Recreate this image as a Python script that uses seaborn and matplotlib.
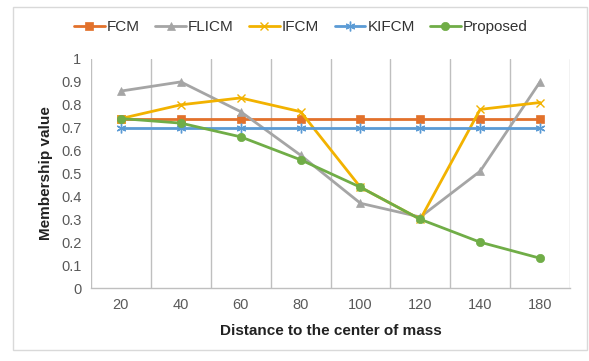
import pandas as pd
import matplotlib.pyplot as plt
import matplotlib.patches as patches
import seaborn as sns

distances = ["20", "40", "60", "80", "100", "120", "140", "180"]
fcm = [0.74, 0.74, 0.74, 0.74, 0.74, 0.74, 0.74, 0.74]
flicm = [0.86, 0.90, 0.77, 0.58, 0.37, 0.31, 0.51, 0.90]
ifcm = [0.74, 0.80, 0.83, 0.77, 0.44, 0.30, 0.78, 0.81]
kifcm = [0.70, 0.70, 0.70, 0.70, 0.70, 0.70, 0.70, 0.70]
proposed = [0.74, 0.72, 0.66, 0.56, 0.44, 0.30, 0.20, 0.13]

sns.set_style("white")
plt.rcParams['font.family'] = ['Liberation Sans', 'DejaVu Sans']

series = [
    ("FCM", fcm, "#E2712B", "s", 6),
    ("FLICM", flicm, "#A5A5A5", "^", 6),
    ("IFCM", ifcm, "#F2B200", "x", 6),
    ("KIFCM", kifcm, "#5B9BD5", (6, 2, 0), 7),
    ("Proposed", proposed, "#70AD47", "o", 6),
]

fig = plt.figure(figsize=(5.89, 3.61), dpi=100)
ax = fig.add_axes([91 / 589, 1 - 288 / 361, (570 - 91) / 589, (288 - 59) / 361])

for name, vals, color, marker, ms in series:
    df = pd.DataFrame({"x": range(len(distances)), "y": vals})
    thin = marker in ("x", (6, 2, 0))
    sns.lineplot(data=df, x="x", y="y", ax=ax, color=color, marker=marker,
                 markersize=ms, linewidth=2, label=name,
                 markeredgecolor=color, markeredgewidth=1.0 if thin else 0.5)

ax.set_xlim(-0.5, len(distances) - 0.5)
ax.set_ylim(0, 1)
ax.set_xticks(range(len(distances)))
ax.set_xticklabels(distances)
ax.set_xticks([i - 0.5 for i in range(len(distances) + 1)], minor=True)
ax.set_yticks([i / 10 for i in range(11)])
ax.set_yticklabels(["0"] + [f"{i / 10:.1f}" for i in range(1, 10)] + ["1"])
ax.grid(False)
ax.grid(True, which="minor", axis="x", color="#BFBFBF", linewidth=1)
ax.tick_params(axis="both", which="major", length=0, labelsize=10.5, colors="#595959", pad=7)
ax.tick_params(axis="x", which="minor", length=0)
for s in ["top", "right", "left"]:
    ax.spines[s].set_visible(False)
ax.spines["bottom"].set_color("#BFBFBF")
ax.spines["bottom"].set_linewidth(1)

ax.set_xlabel("Distance to the center of mass", fontsize=11, fontweight="bold", color="#222222", labelpad=9)
ax.set_ylabel("Membership value", fontsize=11, fontweight="bold", color="#222222", labelpad=6)

leg = ax.legend(loc="center", bbox_to_anchor=(301 / 589, 1 - 27 / 361), bbox_transform=fig.transFigure,
                ncol=5, frameon=False, fontsize=11, handlelength=2.0, columnspacing=1.0, handletextpad=0.15)
for t in leg.get_texts():
    t.set_color("#333333")

fig.patches.append(patches.Rectangle((13 / 589, 1 - 350 / 361), (587 - 13) / 589, (350 - 7) / 361,
                                     transform=fig.transFigure, fill=False, edgecolor="#D9D9D9", linewidth=1))

fig.savefig("out.png", dpi=100)
